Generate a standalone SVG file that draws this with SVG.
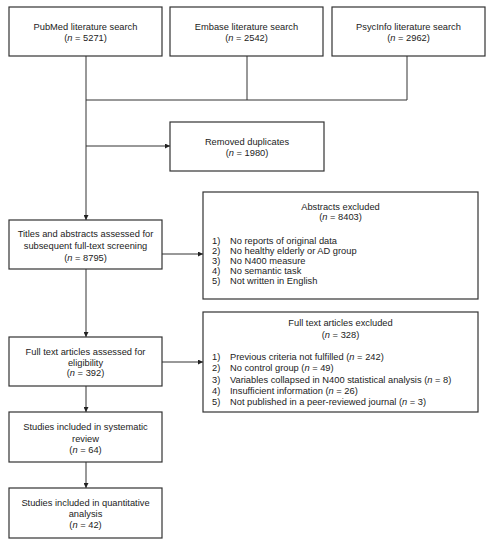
<svg xmlns="http://www.w3.org/2000/svg" width="493" height="550" viewBox="0 0 493 550">
<style>
  .box { fill: #ffffff; stroke: #333333; stroke-width: 1.2; }
  .ln { fill: none; stroke: #333333; stroke-width: 1; }
  text { font-family: "Liberation Sans", Arial, sans-serif; font-size: 9.3px; fill: #222222; }
  .c { text-anchor: middle; }
  .i { font-style: italic; }
</style>
<defs>
  <marker id="ah" viewBox="0 0 6 6" refX="6" refY="3" markerWidth="5" markerHeight="5" markerUnits="userSpaceOnUse" orient="auto">
    <path d="M0,0 L6,3 L0,6 Z" fill="#222222"/>
  </marker>
</defs>
<rect width="493" height="550" fill="#ffffff"/>
<g id="connectors">
  <path class="ln" d="M86,56 V100 H407 V56"/>
  <path class="ln" d="M247,56 V100"/>
  <path class="ln" d="M86,100 V220" marker-end="url(#ah)"/>
  <path class="ln" d="M86,146 H170" marker-end="url(#ah)"/>
  <path class="ln" d="M162,254 H203" marker-end="url(#ah)"/>
  <path class="ln" d="M86,269 V337" marker-end="url(#ah)"/>
  <path class="ln" d="M162,362 H203" marker-end="url(#ah)"/>
  <path class="ln" d="M86,386 V412" marker-end="url(#ah)"/>
  <path class="ln" d="M86,462 V488" marker-end="url(#ah)"/>
</g>
<g id="pubmed">
  <rect class="box" x="9" y="7" width="153" height="49"/>
  <text class="c" x="85.5" y="29.5">PubMed literature search</text>
  <text class="c" x="85.5" y="41">(<tspan class="i">n</tspan> = 5271)</text>
</g>
<g id="embase">
  <rect class="box" x="170" y="7" width="153" height="49"/>
  <text class="c" x="246.5" y="29.5">Embase literature search</text>
  <text class="c" x="246.5" y="41">(<tspan class="i">n</tspan> = 2542)</text>
</g>
<g id="psycinfo">
  <rect class="box" x="332" y="7" width="153" height="49"/>
  <text class="c" x="408.5" y="29.5">PsycInfo literature search</text>
  <text class="c" x="408.5" y="41">(<tspan class="i">n</tspan> = 2962)</text>
</g>
<g id="duplicates">
  <rect class="box" x="170" y="122" width="154" height="49"/>
  <text class="c" x="247" y="144.5">Removed duplicates</text>
  <text class="c" x="247" y="156">(<tspan class="i">n</tspan> = 1980)</text>
</g>
<g id="titles">
  <rect class="box" x="9" y="220" width="153" height="49"/>
  <text class="c" x="85.5" y="237">Titles and abstracts assessed for</text>
  <text class="c" x="85.5" y="249">subsequent full-text screening</text>
  <text class="c" x="85.5" y="261">(<tspan class="i">n</tspan> = 8795)</text>
</g>
<g id="abstracts-excluded">
  <rect class="box" x="203" y="192" width="275" height="107"/>
  <text class="c" x="340.5" y="209.5">Abstracts excluded</text>
  <text class="c" x="340.5" y="219.5">(<tspan class="i">n</tspan> = 8403)</text>
  <text x="212" y="244">1)</text><text x="230" y="244">No reports of original data</text>
  <text x="212" y="254">2)</text><text x="230" y="254">No healthy elderly or AD group</text>
  <text x="212" y="263.5">3)</text><text x="230" y="263.5">No N400 measure</text>
  <text x="212" y="273.5">4)</text><text x="230" y="273.5">No semantic task</text>
  <text x="212" y="283.5">5)</text><text x="230" y="283.5">Not written in English</text>
</g>
<g id="fulltext-assessed">
  <rect class="box" x="9" y="337" width="153" height="49"/>
  <text class="c" x="85.5" y="355">Full text articles assessed for</text>
  <text class="c" x="85.5" y="366">eligibility</text>
  <text class="c" x="85.5" y="376">(<tspan class="i">n</tspan> = 392)</text>
</g>
<g id="fulltext-excluded">
  <rect class="box" x="203" y="312" width="275" height="100"/>
  <text class="c" x="340.5" y="326">Full text articles excluded</text>
  <text class="c" x="340.5" y="338">(<tspan class="i">n</tspan> = 328)</text>
  <text x="212" y="359.5">1)</text><text x="230" y="359.5">Previous criteria not fulfilled (<tspan class="i">n</tspan> = 242)</text>
  <text x="212" y="371">2)</text><text x="230" y="371">No control group (<tspan class="i">n</tspan> = 49)</text>
  <text x="212" y="382.5">3)</text><text x="230" y="382.5">Variables collapsed in N400 statistical analysis (<tspan class="i">n</tspan> = 8)</text>
  <text x="212" y="393.5">4)</text><text x="230" y="393.5">Insufficient information (<tspan class="i">n</tspan> = 26)</text>
  <text x="212" y="405">5)</text><text x="230" y="405">Not published in a peer-reviewed journal (<tspan class="i">n</tspan> = 3)</text>
</g>
<g id="systematic">
  <rect class="box" x="9" y="412" width="153" height="50"/>
  <text class="c" x="85.5" y="430">Studies included in systematic</text>
  <text class="c" x="85.5" y="441.5">review</text>
  <text class="c" x="85.5" y="453">(<tspan class="i">n</tspan> = 64)</text>
</g>
<g id="quantitative">
  <rect class="box" x="9" y="488" width="153" height="50"/>
  <text class="c" x="85.5" y="506">Studies included in quantitative</text>
  <text class="c" x="85.5" y="516.5">analysis</text>
  <text class="c" x="85.5" y="527.5">(<tspan class="i">n</tspan> = 42)</text>
</g>
</svg>
